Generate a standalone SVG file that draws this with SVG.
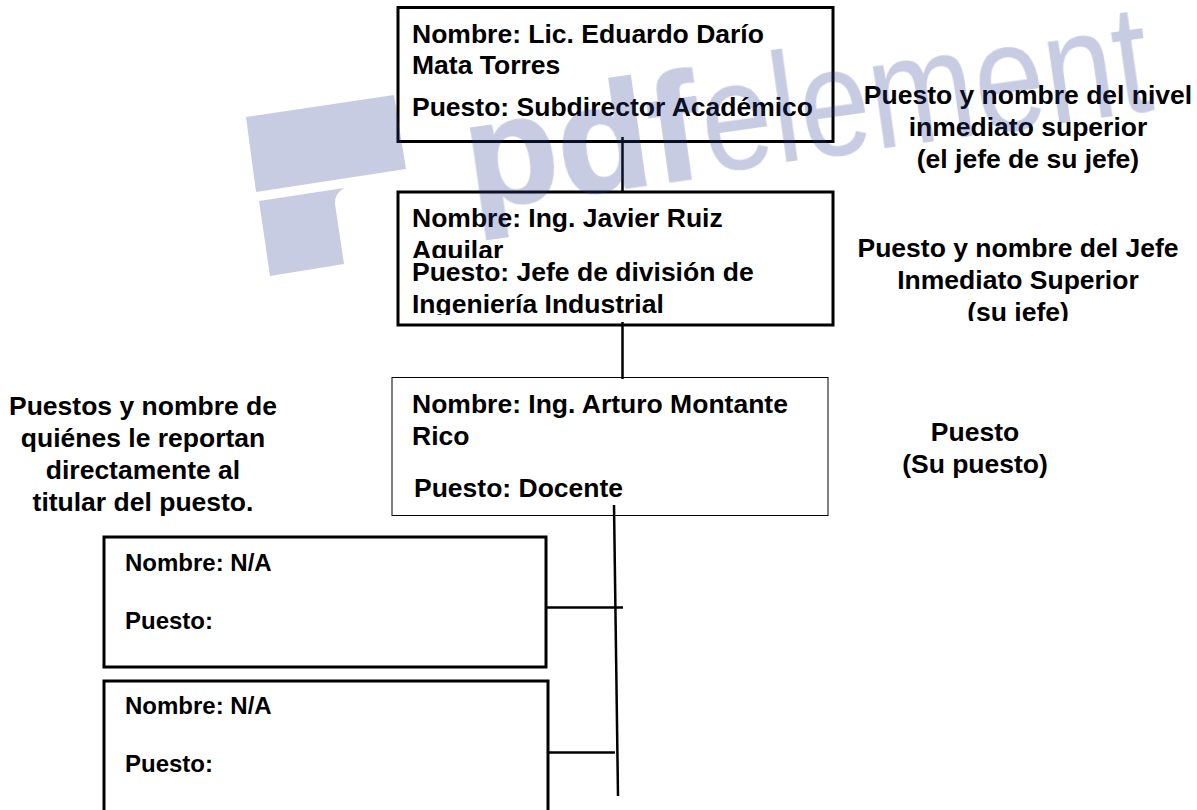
<svg xmlns="http://www.w3.org/2000/svg" width="1197" height="810" viewBox="0 0 1197 810">
<style>
text{font-family:"Liberation Sans",Arial,sans-serif;font-weight:700;fill:#000}
.t{font-size:26.500px}
.s{font-size:24px}
.c{text-anchor:middle;font-size:26.500px}
.b{fill:#fff;stroke:#000}
.l{stroke:#000;stroke-width:2.5;fill:none}
.wm{opacity:.26}
.wm polygon,.wm path{fill:#2b3b93}
.wm text{fill:#2b3b93;font-size:152px}
.wm .p{stroke:#2b3b93;stroke-width:2}
.wm .r{font-weight:400;font-size:155px}
</style>
<defs>
<clipPath id="c1"><rect x="400" y="195" width="430" height="63"/></clipPath>
<clipPath id="c2"><rect x="400" y="259" width="430" height="56"/></clipPath>
<clipPath id="c3"><rect x="850" y="230" width="330" height="91"/></clipPath>
</defs>
<rect width="1197" height="810" fill="#fff"/>
<g id="n1"><rect class="b" x="398" y="7.500" width="435" height="134" stroke-width="3"/>
<text class="t" x="412" y="43">Nombre: Lic. Eduardo Darío</text>
<text class="t" x="412" y="74">Mata Torres</text>
<text class="t" x="412" y="116">Puesto: Subdirector Académico</text></g>
<g id="n2"><rect class="b" x="398" y="192" width="435" height="133" stroke-width="3"/>
<g clip-path="url(#c1)"><text class="t" x="412" y="227">Nombre: Ing. Javier Ruiz</text>
<text class="t" x="412" y="259">Aquilar</text></g>
<g clip-path="url(#c2)"><text class="t" x="412" y="281">Puesto: Jefe de división de</text>
<text class="t" x="412" y="313">Ingeniería Industrial</text></g></g>
<g id="n3"><rect class="b" x="392" y="377.500" width="436" height="138" stroke-width="1"/>
<text class="t" x="412" y="413">Nombre: Ing. Arturo Montante</text>
<text class="t" x="412" y="445">Rico</text>
<text class="t" x="414" y="497">Puesto: Docente</text></g>
<g id="n4"><rect class="b" x="104" y="537" width="442" height="130" stroke-width="3"/>
<text class="s" x="125" y="571">Nombre: N/A</text>
<text class="s" x="125" y="629">Puesto:</text></g>
<g id="n5"><rect class="b" x="104" y="681" width="444" height="140" stroke-width="3"/>
<text class="s" x="125" y="714">Nombre: N/A</text>
<text class="s" x="125" y="772">Puesto:</text></g>
<g id="connectors">
<line class="l" x1="622.500" y1="137" x2="622.500" y2="193"/>
<line class="l" x1="622.500" y1="322" x2="622.500" y2="379"/>
<line class="l" x1="614" y1="505" x2="618" y2="796"/>
<line class="l" x1="547" y1="607.500" x2="623" y2="607.500"/>
<line class="l" x1="549" y1="752.500" x2="615" y2="752.500"/>
</g>
<g id="l1"><text class="c" x="1028" y="104">Puesto y nombre del nivel</text>
<text class="c" x="1028" y="136">inmediato superior</text>
<text class="c" x="1028" y="168">(el jefe de su jefe)</text></g>
<g id="l2" clip-path="url(#c3)"><text class="c" x="1018" y="257">Puesto y nombre del Jefe</text>
<text class="c" x="1018" y="289">Inmediato Superior</text>
<text class="c" x="1018" y="321">(su jefe)</text></g>
<g id="l3"><text class="c" x="975" y="441">Puesto</text>
<text class="c" x="975" y="473">(Su puesto)</text></g>
<g id="l4"><text class="c" x="143" y="415">Puestos y nombre de</text>
<text class="c" x="143" y="447">quiénes le reportan</text>
<text class="c" x="143" y="479">directamente al</text>
<text class="c" x="143" y="511">titular del puesto.</text></g>
<g class="wm" id="watermark">
<polygon points="246,117 394,95 406,169 256,192"/>
<path d="M259,201 L344,188 Q334,194 335,204 L344,264 L270,276 Z"/>
<text class="p" transform="translate(472,209) rotate(-8)">pdf</text>
<text class="r" transform="translate(708,173) rotate(-8)" textLength="452" lengthAdjust="spacingAndGlyphs">element</text>
</g>
</svg>
